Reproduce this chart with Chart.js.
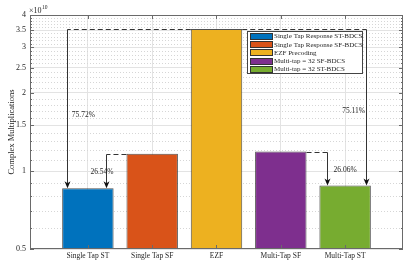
<!DOCTYPE html>
<html><head><meta charset="utf-8">
<script src="https://cdn.jsdelivr.net/npm/chart.js@4"></script>
<style>html,body{margin:0;padding:0;background:#fff}#wrap{width:416px;height:266px;position:relative}</style>
</head><body><div id="wrap"><canvas id="c"></canvas></div>
<script>
// ---- data (values in units of 1e10) ----
const categories = ['Single Tap ST','Single Tap SF','EZF','Multi-Tap SF','Multi-Tap ST'];
const seriesLabels = ['Single Tap Response ST-BDCS','Single Tap Response SF-BDCS','EZF Precoding','Multi-tap = 32 SF-BDCS','Multi-tap = 32 ST-BDCS'];
const values = [0.857, 1.166, 3.53, 1.188, 0.879];
const colors = ['#0072BD','#D95319','#EDB120','#7E2F8E','#77AC30'];
const categoryX = [1, 2, 3, 4, 5];
const yTickValues = [0.5, 1, 1.5, 2, 2.5, 3, 3.5, 4];
const yMinorValues = [0.6,0.7,0.8,0.9,1.1,1.2,1.3,1.4,1.6,1.7,1.8,1.9,2.1,2.2,2.3,2.4,2.6,2.7,2.8,2.9,3.1,3.2,3.3,3.4,3.6,3.7,3.8,3.9];
// annotations: arrow from bar annFrom down to bar annTo
const annFrom = [2, 1, 3, 2];
const annTo = [0, 0, 4, 4];
const annArrowX = [0.68, 1.28, 4.72, 5.33];
const annLabels = ['75.72%', '26.54%', '26.06%', '75.11%'];
const annLabelX = [0.75, 1.22, 5.0, 5.31];
const annLabelY = [1.645, 0.991, 1.009, 1.705];
const annLabelAlign = ['left', 'center', 'center', 'right'];

const SERIF = '"Liberation Serif", "DejaVu Serif", serif';
const TXT = '#262626';

const datasets = categories.map((c, i) => ({
  label: seriesLabels[i],
  data: [{x: categoryX[i], y: values[i]}],
  backgroundColor: colors[i],
  borderColor: 'rgba(50,50,50,0.85)',
  borderWidth: 1,
  borderSkipped: false,
  grouped: false,
  barPercentage: 0.8,
  categoryPercentage: 1.0
}));

const decor = {
  id: 'decor',
  beforeDatasetsDraw(chart) {
    const {ctx, chartArea: a, scales: {x, y}} = chart;
    ctx.save();
    ctx.strokeStyle = '#d6d6d6';
    ctx.lineWidth = 1;
    ctx.setLineDash([1, 2]);
    yMinorValues.forEach(v => {
      const py = Math.round(y.getPixelForValue(v)) + 0.5;
      ctx.beginPath(); ctx.moveTo(a.left, py); ctx.lineTo(a.right, py); ctx.stroke();
    });
    ctx.restore();
  },
  afterDatasetsDraw(chart) {
    const {ctx, chartArea: a, scales: {x, y}} = chart;
    ctx.save();
    // box
    ctx.strokeStyle = '#6a6a6a';
    ctx.lineWidth = 1;
    ctx.strokeRect(Math.round(a.left) + 0.5, Math.round(a.top) + 0.5, Math.round(a.right - a.left) - 1, Math.round(a.bottom - a.top) - 1);
    // inward ticks
    ctx.beginPath();
    yTickValues.forEach(v => {
      const py = Math.round(y.getPixelForValue(v)) + 0.5;
      ctx.moveTo(a.left, py); ctx.lineTo(a.left + 4, py);
      ctx.moveTo(a.right, py); ctx.lineTo(a.right - 4, py);
    });
    yMinorValues.forEach(v => {
      const py = Math.round(y.getPixelForValue(v)) + 0.5;
      ctx.moveTo(a.left, py); ctx.lineTo(a.left + 2, py);
      ctx.moveTo(a.right, py); ctx.lineTo(a.right - 2, py);
    });
    categoryX.forEach(v => {
      const px = Math.round(x.getPixelForValue(v)) + 0.5;
      ctx.moveTo(px, a.bottom); ctx.lineTo(px, a.bottom - 4);
      ctx.moveTo(px, a.top); ctx.lineTo(px, a.top + 4);
    });
    ctx.stroke();

    // annotations
    ctx.strokeStyle = '#333';
    ctx.fillStyle = '#111';
    annFrom.forEach((f, i) => {
      const ax = Math.round(x.getPixelForValue(annArrowX[i])) + 0.5;
      const sy = Math.round(y.getPixelForValue(values[f])) + 0.5;
      const edge = annArrowX[i] < categoryX[f] ? categoryX[f] - 0.4 : categoryX[f] + 0.4;
      const ex = x.getPixelForValue(edge);
      const ty = y.getPixelForValue(values[annTo[i]]);
      ctx.setLineDash([5, 3]);
      ctx.beginPath(); ctx.moveTo(ex, sy); ctx.lineTo(ax, sy); ctx.stroke();
      ctx.setLineDash([]);
      ctx.beginPath(); ctx.moveTo(ax, sy); ctx.lineTo(ax, ty - 4); ctx.stroke();
      ctx.beginPath();
      ctx.moveTo(ax, ty);
      ctx.lineTo(ax - 3, ty - 7);
      ctx.lineTo(ax, ty - 5);
      ctx.lineTo(ax + 3, ty - 7);
      ctx.closePath(); ctx.fill();
      ctx.font = '7.5px ' + SERIF;
      ctx.textAlign = annLabelAlign[i];
      ctx.textBaseline = 'middle';
      ctx.fillStyle = TXT;
      ctx.fillText(annLabels[i], x.getPixelForValue(annLabelX[i]), y.getPixelForValue(annLabelY[i]));
      ctx.fillStyle = '#111';
    });

    // legend
    const lx = a.right - 156, ly = a.top + 16, lw = 115, lh = 42;
    ctx.fillStyle = '#fff';
    ctx.fillRect(lx, ly, lw, lh);
    ctx.strokeStyle = '#444';
    ctx.strokeRect(Math.round(lx) + 0.5, Math.round(ly) + 0.5, lw, lh);
    ctx.font = '7px ' + SERIF;
    ctx.textAlign = 'left';
    ctx.textBaseline = 'middle';
    seriesLabels.forEach((lab, i) => {
      const ry = ly + 5 + i * 8.2;
      ctx.fillStyle = colors[i];
      ctx.fillRect(lx + 3, Math.round(ry - 3), 22, 6);
      ctx.strokeStyle = '#333';
      ctx.strokeRect(lx + 3.5, Math.round(ry - 3) + 0.5, 22, 6);
      ctx.fillStyle = TXT;
      ctx.fillText(lab, lx + 27, ry + 0.5);
    });

    // y axis title
    ctx.save();
    ctx.translate(12, (a.top + a.bottom) / 2);
    ctx.rotate(-Math.PI / 2);
    ctx.font = '8.5px ' + SERIF;
    ctx.textAlign = 'center';
    ctx.textBaseline = 'middle';
    ctx.fillStyle = TXT;
    ctx.fillText('Complex Multiplications', 0, 0);
    ctx.restore();

    // exponent label
    ctx.fillStyle = TXT;
    ctx.textAlign = 'left';
    ctx.textBaseline = 'alphabetic';
    ctx.font = '8px ' + SERIF;
    ctx.fillText('\u00d710', a.left - 1, a.top - 2);
    const w = ctx.measureText('\u00d710').width;
    ctx.font = '5.5px ' + SERIF;
    ctx.fillText('10', a.left - 1 + w + 0.5, a.top - 6);
    ctx.restore();
  }
};

new Chart(document.getElementById('c'), {
  type: 'bar',
  data: {datasets},
  options: {
    responsive: true,
    maintainAspectRatio: false,
    animation: false,
    layout: {padding: {top: 15, right: 13, left: 0, bottom: 0}},
    plugins: {legend: {display: false}, tooltip: {enabled: false}},
    scales: {
      x: {
        type: 'linear',
        offset: false,
        min: 0.1, max: 5.9,
        afterBuildTicks: s => { s.ticks = categoryX.map(v => ({value: v})); },
        afterFit: s => { s.height = 17; },
        ticks: {
          callback: v => categories[categoryX.indexOf(v)] || '',
          font: {family: SERIF, size: 7.5}, color: TXT, padding: 3, maxRotation: 0, autoSkip: false
        },
        grid: {color: '#e3e3e3', drawTicks: false, offset: false},
        border: {display: false}
      },
      y: {
        type: 'logarithmic',
        min: 0.5, max: 4,
        afterBuildTicks: s => { s.ticks = yTickValues.map(v => ({value: v, major: false})); },
        afterFit: s => { s.width = 30; },
        ticks: {
          callback: v => String(v),
          font: {family: SERIF, size: 8}, color: TXT, padding: 4, autoSkip: false
        },
        grid: {color: '#e3e3e3', drawTicks: false},
        border: {display: false}
      }
    }
  },
  plugins: [decor]
});
</script></body></html>
